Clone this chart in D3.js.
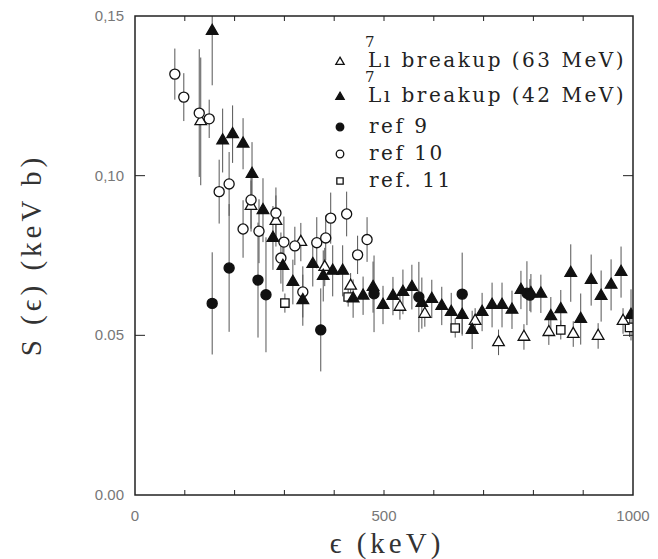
<!DOCTYPE html>
<html>
<head>
    <title>S factor</title>
    <style type="text/css">
        body { margin: 0; background: #fff; }
        svg text.tick { font-family: "Liberation Sans", Arial, sans-serif; font-size: 15px; fill: #777; }
        svg text.title { font-family: "Liberation Serif", "Times New Roman", serif; font-size: 29px; fill: #333; letter-spacing: 4px; }
        svg text.leg { font-family: "DejaVu Serif", serif; font-size: 20px; fill: #222; letter-spacing: 2.5px; }
        svg tspan.sup { font-size: 15px; letter-spacing: 0; }
    </style>
</head>
<body>
<script src="https://d3js.org/d3.v7.min.js" type="text/javascript"></script>
<script type="text/javascript">

    // 7Li breakup (63 MeV), open triangles: energy, S, error
    var li63X = [132, 233, 283, 333, 381, 433, 532, 582, 683, 730, 781, 831, 880, 930, 980];
    var li63Y = [0.117, 0.0905, 0.0858, 0.0792, 0.0714, 0.0655, 0.0589, 0.0567, 0.0545, 0.0478, 0.0495, 0.051, 0.0504, 0.0498, 0.0545];
    var li63E = [0.02, 0.008, 0.008, 0.006, 0.006, 0.004, 0.004, 0.004, 0.004, 0.004, 0.004, 0.004, 0.004, 0.004, 0.004];

    // 7Li breakup (42 MeV), filled triangles
    var li42X = [155, 176, 196, 217, 235, 257, 277, 297, 317, 337, 357, 378, 397, 417, 438, 458, 478, 498, 518, 538,
                 556, 576, 596, 616, 635, 657, 677, 697, 717, 737, 757, 775, 795, 815, 835, 855, 875, 895, 916, 936,
                 956, 976, 996];
    var li42Y = [0.1453, 0.111, 0.113, 0.110, 0.1005, 0.0892, 0.0805, 0.0717, 0.0667, 0.061, 0.0723, 0.0686, 0.0702, 0.0702, 0.0615, 0.0624, 0.0651, 0.0595, 0.0623, 0.0636,
                 0.0651, 0.0601, 0.0614, 0.0592, 0.0573, 0.0564, 0.0517, 0.0573, 0.0595, 0.0595, 0.058, 0.0642, 0.0632, 0.063, 0.056, 0.0582, 0.0695, 0.0551, 0.0673, 0.0623,
                 0.0658, 0.0698, 0.0564];
    var li42E = [0.017, 0.01, 0.009, 0.008, 0.01, 0.01, 0.01, 0.008, 0.007, 0.008, 0.007, 0.008, 0.008, 0.008, 0.006, 0.006, 0.008, 0.006, 0.006, 0.007,
                 0.007, 0.008, 0.006, 0.006, 0.006, 0.006, 0.006, 0.006, 0.007, 0.007, 0.006, 0.006, 0.006, 0.006, 0.006, 0.006, 0.009, 0.008, 0.008, 0.008,
                 0.008, 0.008, 0.008];

    // ref 9, filled circles
    var ref9X = [155, 189, 247, 263, 373, 480, 570, 657, 787, 793];
    var ref9Y = [0.060, 0.0711, 0.0673, 0.0627, 0.0517, 0.063, 0.062, 0.0629, 0.0632, 0.0626];
    var ref9E = [0.016, 0.02, 0.018, 0.018, 0.013, 0.012, 0.011, 0.013, 0.01, 0.005];

    // ref 10, open circles
    var ref10X = [80, 98, 129, 149, 169, 189, 217, 233, 249, 283, 293, 299, 321, 337, 365, 383, 393, 425, 447, 466];
    var ref10Y = [0.1318, 0.1246, 0.1196, 0.1178, 0.095, 0.0974, 0.0833, 0.0924, 0.0826, 0.0883, 0.0742, 0.0792, 0.078, 0.0636, 0.079, 0.0805, 0.0867, 0.088, 0.0752, 0.080];
    var ref10E = [0.008, 0.0075, 0.02, 0.006, 0.01, 0.01, 0.009, 0.009, 0.01, 0.008, 0.008, 0.008, 0.006, 0.008, 0.008, 0.007, 0.008, 0.007, 0.006, 0.007];

    // ref. 11, open squares
    var ref11X = [301, 428, 643, 855, 993];
    var ref11Y = [0.0601, 0.062, 0.0523, 0.0517, 0.0525];
    var ref11E = [0.003, 0.003, 0.003, 0.003, 0.003];

    var xTicks = [0, 500, 1000];
    var yTicks = [0, 0.05, 0.10, 0.15];
    var yTickLabels = ['0.00', '0.05', '0,10', '0,15'];

    (function () {
    var svg = d3.select('body').append('svg')
        .attr('width', 658)
        .attr('height', 559);

    // careful: "top" is taken by window.top
    var pl = 135, pr = 633, pt = 16, pb = 495;
    var x = d3.scaleLinear().domain([0, 1000]).range([pl, pr]);
    var y = d3.scaleLinear().domain([0, 0.15]).range([pb, pt]);

    function zip(xs, ys, es) {
        return xs.map(function (d, i) { return { x: d, y: ys[i], e: es[i] }; });
    }

    svg.append('clipPath').attr('id', 'plot')
        .append('rect').attr('x', pl).attr('y', pt).attr('width', pr - pl).attr('height', pb - pt);

    var plot = svg.append('g').attr('clip-path', 'url(#plot)');

    var tri = d3.symbol().type(d3.symbolTriangle).size(58);
    var circ = d3.symbol().type(d3.symbolCircle).size(80);
    var sq = d3.symbol().type(d3.symbolSquare).size(70);

    var series = [
        { data: zip(ref11X, ref11Y, ref11E), sym: sq, fill: '#fff' },
        { data: zip(li63X, li63Y, li63E), sym: tri, fill: '#fff' },
        { data: zip(ref10X, ref10Y, ref10E), sym: circ, fill: '#fff' },
        { data: zip(li42X, li42Y, li42E), sym: tri, fill: '#111' },
        { data: zip(ref9X, ref9Y, ref9E), sym: circ, fill: '#111' }
    ];

    series.forEach(function (s) {
        plot.append('g').selectAll('line')
            .data(s.data).enter().append('line')
            .attr('x1', function (d) { return x(d.x); })
            .attr('x2', function (d) { return x(d.x); })
            .attr('y1', function (d) { return y(d.y - d.e); })
            .attr('y2', function (d) { return y(d.y + d.e); })
            .attr('stroke', '#555')
            .attr('stroke-width', 1);
    });
    series.forEach(function (s) {
        plot.append('g').selectAll('path')
            .data(s.data).enter().append('path')
            .attr('d', s.sym)
            .attr('transform', function (d) { return 'translate(' + x(d.x) + ',' + y(d.y) + ')'; })
            .attr('fill', s.fill)
            .attr('stroke', '#111')
            .attr('stroke-width', 1.3);
    });

    // frame
    svg.append('rect')
        .attr('x', pl).attr('y', pt)
        .attr('width', pr - pl).attr('height', pb - pt)
        .attr('fill', 'none').attr('stroke', '#222').attr('stroke-width', 1.5);

    // minor x ticks inward, bottom and top
    var xMinor = d3.range(100, 1000, 100);
    svg.append('g').selectAll('line').data(xMinor).enter().append('line')
        .attr('x1', function (d) { return x(d); }).attr('x2', function (d) { return x(d); })
        .attr('y1', pb).attr('y2', pb - 5)
        .attr('stroke', '#222');
    svg.append('g').selectAll('line').data(xMinor).enter().append('line')
        .attr('x1', function (d) { return x(d); }).attr('x2', function (d) { return x(d); })
        .attr('y1', pt).attr('y2', pt + 5)
        .attr('stroke', '#222');

    // y ticks inward
    var yIn = [0.05, 0.10];
    svg.append('g').selectAll('line').data(yIn).enter().append('line')
        .attr('x1', pl).attr('x2', pl + 10)
        .attr('y1', function (d) { return y(d); }).attr('y2', function (d) { return y(d); })
        .attr('stroke', '#222');
    svg.append('g').selectAll('line').data(yIn).enter().append('line')
        .attr('x1', pr).attr('x2', pr - 10)
        .attr('y1', function (d) { return y(d); }).attr('y2', function (d) { return y(d); })
        .attr('stroke', '#222');

    // tick labels
    svg.append('g').selectAll('text').data(xTicks).enter().append('text')
        .attr('class', 'tick')
        .attr('x', function (d) { return x(d); })
        .attr('y', pb + 26)
        .attr('text-anchor', 'middle')
        .text(function (d) { return d; });
    svg.append('g').selectAll('text').data(yTicks).enter().append('text')
        .attr('class', 'tick')
        .attr('x', pl - 11)
        .attr('y', function (d) { return y(d) + 5; })
        .attr('text-anchor', 'end')
        .text(function (d, i) { return yTickLabels[i]; });

    // axis titles
    svg.append('text').attr('class', 'title')
        .attr('x', 387).attr('y', 553)
        .attr('text-anchor', 'middle')
        .text('\u03F5 (keV)');
    svg.append('text').attr('class', 'title')
        .attr('transform', 'translate(41,255) rotate(-90)')
        .attr('text-anchor', 'middle')
        .text('S (\u03F5) (keV b)');

    // legend
    var legend = [
        { sym: d3.symbol().type(d3.symbolTriangle).size(30), fill: '#fff', label: 'L\u0131 breakup (63 MeV)', sup: true, y: 62, base: 67 },
        { sym: d3.symbol().type(d3.symbolTriangle).size(30), fill: '#111', label: 'L\u0131 breakup (42 MeV)', sup: true, y: 97, base: 102 },
        { sym: d3.symbol().type(d3.symbolCircle).size(45), fill: '#111', label: 'ref 9', sup: false, y: 127, base: 133 },
        { sym: d3.symbol().type(d3.symbolCircle).size(45), fill: '#fff', label: 'ref 10', sup: false, y: 154, base: 160 },
        { sym: d3.symbol().type(d3.symbolSquare).size(40), fill: '#fff', label: 'ref. 11', sup: false, y: 181, base: 187 }
    ];
    var lg = svg.append('g').selectAll('g').data(legend).enter().append('g');
    lg.append('path')
        .attr('d', function (d) { return d.sym(); })
        .attr('transform', function (d) { return 'translate(340,' + d.y + ')'; })
        .attr('fill', function (d) { return d.fill; })
        .attr('stroke', '#111').attr('stroke-width', 1.3);
    var lt = lg.append('text').attr('class', 'leg')
        .attr('x', function (d) { return d.sup ? 365 : 369; })
        .attr('y', function (d) { return d.base; });
    lt.each(function (d) {
        var t = d3.select(this);
        if (d.sup) {
            t.append('tspan').attr('class', 'sup').attr('dy', -20).text('7');
            t.append('tspan').attr('x', 368).attr('dy', 20).text(d.label);
        } else {
            t.text(d.label);
        }
    });
    })();

</script>
</body>
</html>
